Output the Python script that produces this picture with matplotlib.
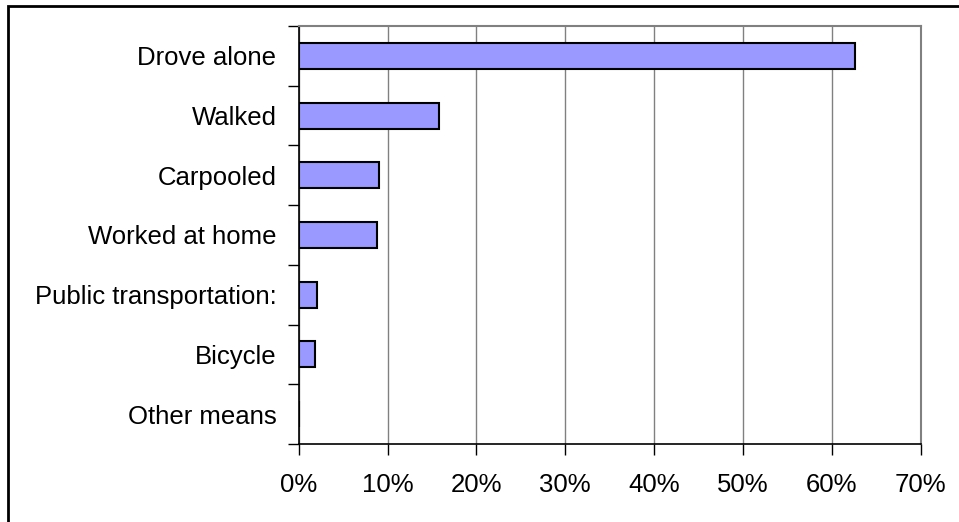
import matplotlib
matplotlib.use("Agg")
import matplotlib.pyplot as plt
from matplotlib.patches import Rectangle
from matplotlib.ticker import FuncFormatter
import numpy as np

plt.rcParams['font.family'] = ['Liberation Sans', 'DejaVu Sans']

categories = ["Drove alone", "Walked", "Carpooled", "Worked at home",
              "Public transportation:", "Bicycle", "Other means"]
shares = [62.6, 15.8, 9.0, 8.8, 2.1, 1.8, 0.0]
x_ticks = [0, 10, 20, 30, 40, 50, 60, 70]

fig = plt.figure(figsize=(9.59, 5.22), dpi=100)
ax = fig.add_axes([298.7 / 959, 1 - 444 / 522, 622 / 959, 418 / 522])

pos = np.arange(len(categories))
ax.barh(pos, shares, height=0.435, color='#9999ff', edgecolor='black',
        linewidth=1.5, zorder=3)

ax.set_xlim(0, 70)
ax.set_ylim(len(categories) - 0.5, -0.5)

# gridlines
ax.set_xticks(x_ticks)
ax.xaxis.set_major_formatter(FuncFormatter(lambda v, p: "%d%%" % v))
ax.grid(axis='x', color='#808080', linewidth=1.0, zorder=0)
ax.tick_params(axis='x', direction='out', length=8, width=1, color='black',
               labelsize=18.5, pad=13)

# y ticks at category boundaries, labels at centres
ax.set_yticks(np.arange(len(categories) + 1) - 0.5)
ax.set_yticklabels([])
ax.tick_params(axis='y', which='major', direction='out', length=8, width=1)
ax.set_yticks(pos, minor=True)
ax.set_yticklabels(categories, minor=True)
ax.tick_params(axis='y', which='minor', length=0, labelsize=18.5, pad=16)

for s in ['top', 'right']:
    ax.spines[s].set_color('#808080')
    ax.spines[s].set_linewidth(1.5)
for s in ['left', 'bottom']:
    ax.spines[s].set_color('black')
    ax.spines[s].set_linewidth(1.2)

# outer chart frame
fig.patches.append(Rectangle((8 / 959, -0.2), 2, 1 - 6 / 522 + 0.2,
                             transform=fig.transFigure, fill=False,
                             edgecolor='black', linewidth=2))

fig.savefig("out.png", dpi=100)
